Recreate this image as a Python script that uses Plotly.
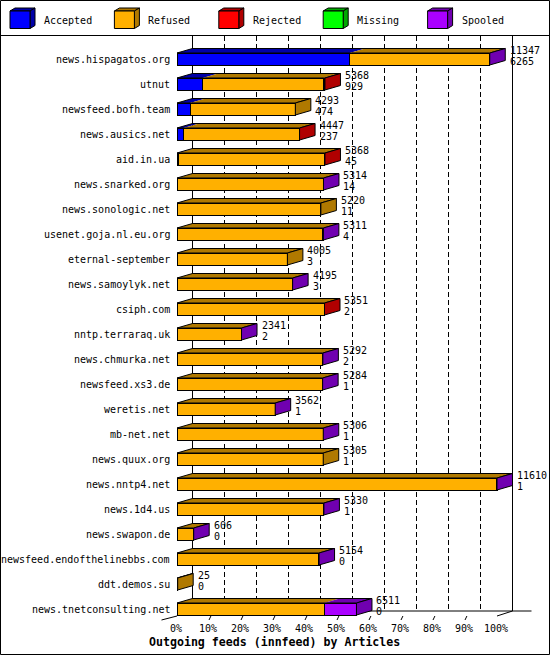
import plotly.graph_objects as go

# ---------------- data ----------------
categories = [
    "news.hispagatos.org", "utnut", "newsfeed.bofh.team", "news.ausics.net",
    "aid.in.ua", "news.snarked.org", "news.sonologic.net", "usenet.goja.nl.eu.org",
    "eternal-september", "news.samoylyk.net", "csiph.com", "nntp.terraraq.uk",
    "news.chmurka.net", "newsfeed.xs3.de", "weretis.net", "mb-net.net",
    "news.quux.org", "news.nntp4.net", "news.1d4.us", "news.swapon.de",
    "newsfeed.endofthelinebbs.com", "ddt.demos.su", "news.tnetconsulting.net",
]
offered = [11347, 5368, 4293, 4447, 5368, 5314, 5220, 5311, 4005, 4195, 5351, 2341,
           5292, 5284, 3562, 5306, 5305, 11610, 5330, 606, 5154, 25, 6511]
accepted = [6265, 929, 474, 237, 45, 14, 11, 4, 3, 3, 2, 2,
            2, 1, 1, 1, 1, 1, 1, 0, 0, 0, 0]
refused = [5067, 4369, 3819, 4200, 5313, 5290, 5209, 5262, 4002, 4182, 5339, 2329,
           5260, 5278, 3556, 5300, 5304, 11604, 5324, 601, 5124, 25, 5336]
rejected = [0, 70, 0, 10, 10, 0, 0, 0, 0, 0, 10, 0,
            0, 0, 0, 0, 0, 0, 0, 0, 0, 0, 0]
missing = [0, 0, 0, 0, 0, 0, 0, 0, 0, 0, 0, 0,
           0, 0, 0, 0, 0, 0, 0, 0, 0, 0, 0]
spooled = [15, 0, 0, 0, 0, 10, 0, 45, 0, 10, 0, 10,
           30, 5, 5, 5, 0, 5, 5, 5, 30, 0, 1175]

series_names = ["Accepted", "Refused", "Rejected", "Missing", "Spooled"]
series_values = [accepted, refused, rejected, missing, spooled]
face_colors = ["#0000FF", "#FFB000", "#FF0000", "#00FF00", "#AA00FF"]
shade_colors = ["#0000A8", "#B07900", "#B00000", "#00A800", "#7000B0"]

tick_values = [0, 10, 20, 30, 40, 50, 60, 70, 80, 90, 100]
tick_labels = ["0%", "10%", "20%", "30%", "40%", "50%", "60%", "70%", "80%", "90%", "100%"]
axis_title = "Outgoing feeds (innfeed) by Articles"

# ---------------- geometry (style) ----------------
W, H = 550, 655
PX_PER_PCT = 3.2          # horizontal scale
X0_PX = 177               # pixel of 0%
ROW_PX = 25               # pixel per row
ROW0_PX = 59              # pixel of first row centre
DEPTH = 15.5 / PX_PER_PCT # 3d depth in % units
DY = 4.5 / ROW_PX         # 3d rise in row units
HALF = 6.0 / ROW_PX       # half bar height in row units
FONT = "DejaVu Sans Mono"

n = len(categories)
scale_max = max(offered)


def pct(v):
    return v * 100.0 / scale_max


def row_of_px(py):
    return (py - ROW0_PX) / ROW_PX


x_range = [-X0_PX / PX_PER_PCT, (W - X0_PX) / PX_PER_PCT]
y_range = [row_of_px(H), row_of_px(0)]
ys = list(range(n))

fig = go.Figure()

# front faces: stacked horizontal bars
for name, vals, col in zip(series_names, series_values, face_colors):
    fig.add_trace(go.Bar(
        y=ys, x=[pct(v) if v > 0 else None for v in vals], orientation="h",
        name=name, width=2 * HALF, showlegend=False, hoverinfo="skip",
        marker=dict(color=col, line=dict(color="black", width=1)),
    ))

shapes = []
annotations = []

# back wall grid lines (behind bars)
y_top = row_of_px(36)
y_floor = row_of_px(611)
for v in tick_values:
    shapes.append(dict(type="line", xref="x", yref="y", layer="below",
                       x0=v + DEPTH, x1=v + DEPTH, y0=y_top, y1=y_floor,
                       line=dict(color="black", width=1,
                                 dash="solid" if v in (0, 100) else "5px,3px")))
# floor
shapes.append(dict(type="line", xref="x", yref="y", layer="below",
                   x0=DEPTH, x1=100 + DEPTH + 19 / PX_PER_PCT, y0=y_floor, y1=y_floor,
                   line=dict(color="black", width=1)))
y_front_floor = row_of_px(616)
y_tick_low = row_of_px(620)
shapes.append(dict(type="line", xref="x", yref="y", layer="below",
                   x0=100, x1=100 + DEPTH, y0=y_front_floor, y1=y_floor,
                   line=dict(color="black", width=1)))
shapes.append(dict(type="line", xref="x", yref="y", layer="below",
                   x0=-DEPTH, x1=0, y0=y_tick_low, y1=y_front_floor,
                   line=dict(color="black", width=1)))
for v in tick_values[1:-1]:
    shapes.append(dict(type="line", xref="x", yref="y", layer="below",
                       x0=v, x1=v + 0.6, y0=y_tick_low, y1=y_front_floor,
                       line=dict(color="black", width=1)))

# 3d top and side faces
for i in range(n):
    yt = i - HALF
    yb = i + HALF
    start = 0.0
    last_shade = shade_colors[1]
    for vals, sh in zip(series_values, shade_colors):
        w = pct(vals[i])
        if vals[i] > 0:
            a, b = start, start + w
            shapes.append(dict(type="path", xref="x", yref="y", layer="above",
                               path=f"M {a},{yt} L {b},{yt} L {b + DEPTH},{yt - DY} L {a + DEPTH},{yt - DY} Z",
                               fillcolor=sh, line=dict(width=0)))
            last_shade = sh
            start = b
    end = start
    shapes.append(dict(type="path", xref="x", yref="y", layer="above",
                       path=f"M 0,{yt} L {end},{yt} L {end + DEPTH},{yt - DY} L {DEPTH},{yt - DY} Z",
                       fillcolor="rgba(0,0,0,0)", line=dict(color="black", width=1)))
    shapes.append(dict(type="path", xref="x", yref="y", layer="above",
                       path=f"M {end},{yt} L {end + DEPTH},{yt - DY} L {end + DEPTH},{yb - DY} L {end},{yb} Z",
                       fillcolor=last_shade, line=dict(color="black", width=1)))
    # labels
    tx = end + 18 / PX_PER_PCT
    annotations.append(dict(xref="x", yref="y", x=tx, y=i - 9 / ROW_PX, text=str(offered[i]),
                            showarrow=False, xanchor="left", yanchor="middle",
                            font=dict(family=FONT, size=10, color="black")))
    annotations.append(dict(xref="x", yref="y", x=tx, y=i + 2 / ROW_PX, text=str(accepted[i]),
                            showarrow=False, xanchor="left", yanchor="middle",
                            font=dict(family=FONT, size=10, color="black")))
    annotations.append(dict(xref="x", yref="y", x=-5 / PX_PER_PCT, y=i, text=categories[i],
                            showarrow=False, xanchor="right", yanchor="middle",
                            font=dict(family=FONT, size=10, color="black")))

# tick labels
for v, t in zip(tick_values, tick_labels):
    annotations.append(dict(xref="x", yref="y", x=v - 0.4, y=row_of_px(628), text=t,
                            showarrow=False, xanchor="center", yanchor="middle",
                            font=dict(family=FONT, size=10, color="black")))
annotations.append(dict(xref="paper", yref="paper", x=274 / W, y=1 - 641.5 / H, text=f"<b>{axis_title}</b>",
                        showarrow=False, xanchor="center", yanchor="middle",
                        font=dict(family=FONT, size=11.6, color="black")))

# frame and legend separator
shapes.append(dict(type="rect", xref="paper", yref="paper", layer="above",
                   x0=0.5 / W, x1=(W - 0.5) / W, y0=0.5 / H, y1=1 - 0.5 / H,
                   line=dict(color="black", width=1), fillcolor="rgba(0,0,0,0)"))
shapes.append(dict(type="line", xref="paper", yref="paper", layer="above",
                   x0=0, x1=1, y0=1 - 35.5 / H, y1=1 - 35.5 / H,
                   line=dict(color="black", width=1)))

# legend (3d cubes)
def P(px, py):
    return f"{px / W},{1 - py / H}"

for k, (name, col, sh) in enumerate(zip(series_names, face_colors, shade_colors)):
    lx = 10 + k * 104.4
    shapes.append(dict(type="path", xref="paper", yref="paper", layer="above",
                       path=f"M {P(lx, 11)} L {P(lx + 5, 8)} L {P(lx + 25, 8)} L {P(lx + 20, 11)} Z",
                       fillcolor=sh, line=dict(color="black", width=1)))
    shapes.append(dict(type="path", xref="paper", yref="paper", layer="above",
                       path=f"M {P(lx + 20, 11)} L {P(lx + 25, 8)} L {P(lx + 25, 25.5)} L {P(lx + 20, 28.5)} Z",
                       fillcolor=sh, line=dict(color="black", width=1)))
    shapes.append(dict(type="rect", xref="paper", yref="paper", layer="above",
                       x0=lx / W, x1=(lx + 20) / W, y0=1 - 28.5 / H, y1=1 - 11 / H,
                       fillcolor=col, line=dict(color="black", width=1)))
    annotations.append(dict(xref="paper", yref="paper", x=(lx + 32) / W, y=1 - 20 / H, text=name,
                            showarrow=False, xanchor="left", yanchor="middle",
                            font=dict(family=FONT, size=10, color="black")))

fig.update_layout(
    width=W, height=H, margin=dict(l=0, r=0, t=0, b=0),
    paper_bgcolor="white", plot_bgcolor="white",
    barmode="stack", showlegend=False,
    xaxis=dict(range=x_range, visible=False, fixedrange=True),
    yaxis=dict(range=y_range, visible=False, fixedrange=True),
    shapes=shapes, annotations=annotations,
)

fig.write_html("out.html")
